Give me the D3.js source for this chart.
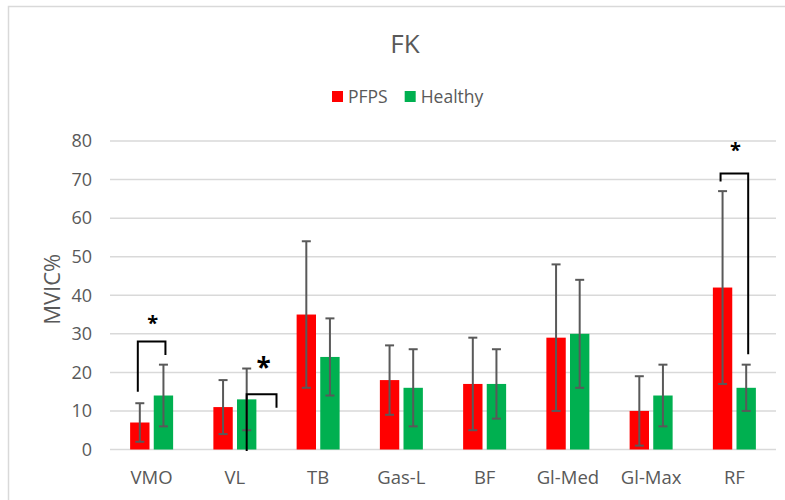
<!DOCTYPE html>
<html>
<head>
<meta charset="utf-8">
<script src="https://cdn.jsdelivr.net/npm/d3@7"></script>
<style>
  html, body { margin: 0; padding: 0; background: #fff; }
  svg { display: block; }
  text { font-family: "Open Sans", "Noto Sans", sans-serif; fill: #595959; }
</style>
</head>
<body>
<svg id="chart" width="785" height="500"></svg>
<script>
// Muscle groups on the x axis
const categories = ["VMO", "VL", "TB", "Gas-L", "BF", "Gl-Med", "Gl-Max", "RF"];
const seriesNames = ["PFPS", "Healthy"];
const seriesColors = ["#ff0000", "#00b050"];

// Mean MVIC% per group and standard deviation
const pfpsMean = [7, 11, 35, 18, 17, 29, 10, 42];
const pfpsSD = [5, 7, 19, 9, 12, 19, 9, 25];
const healthyMean = [14, 13, 24, 16, 17, 30, 14, 16];
const healthySD = [8, 8, 10, 10, 9, 14, 8, 6];

const yTicks = [0, 10, 20, 30, 40, 50, 60, 70, 80];

// Significance brackets: category, top level, left leg end, right leg end
const sigCategory = ["VMO", "VL", "RF"];
const sigTop = [28, 14.3, 71.6];
const sigLeftEnd = [15, -0.4, 69.5];
const sigRightEnd = [24.5, 10.8, 24.7];
const sigStarLevel = [34.5, 23.5, 79.5];

const svg = d3.select("#chart");
const plot = { left: 110, right: 776, top: 141, bottom: 449.5 };

// Outer chart frame
svg.append("rect")
  .attr("x", 8.5).attr("y", 6.5)
  .attr("width", 820).attr("height", 540)
  .attr("fill", "#fff").attr("stroke", "#d9d9d9").attr("stroke-width", 1.5);

const x0 = d3.scaleBand().domain(categories).range([plot.left, plot.right]).padding(0);
const groupHalf = 21.5;
const x1 = d3.scaleBand().domain(seriesNames).range([0, groupHalf * 2]).paddingInner(0.18);
const y = d3.scaleLinear().domain([0, 80]).range([plot.bottom, plot.top]);

const barLeft = (cat, s) => x0(cat) + x0.bandwidth() / 2 - groupHalf + x1(s);
const barCenter = (cat, s) => barLeft(cat, s) + x1.bandwidth() / 2;

// Gridlines
svg.append("g")
  .selectAll("line")
  .data(yTicks)
  .join("line")
  .attr("x1", plot.left).attr("x2", plot.right)
  .attr("y1", d => y(d)).attr("y2", d => y(d))
  .attr("stroke", "#d9d9d9").attr("stroke-width", 1.5);

// Y axis labels
const yAxis = d3.axisLeft(y).tickValues(yTicks).tickSize(0).tickPadding(0);
const yg = svg.append("g").attr("transform", `translate(${plot.left - 18},0)`).call(yAxis);
yg.select(".domain").remove();
yg.selectAll("text")
  .style("font-size", "18px")
  .attr("fill", "#595959")
  .style("font-family", "'Open Sans', sans-serif");

// X axis labels
const xAxis = d3.axisBottom(x0).tickSize(0).tickPadding(0);
const xg = svg.append("g").attr("transform", `translate(0,${plot.bottom + 21})`).call(xAxis);
xg.select(".domain").remove();
xg.selectAll("text")
  .style("font-size", "18.5px")
  .attr("fill", "#595959")
  .style("font-family", "'Open Sans', sans-serif");

// Bars and error bars
const rows = [];
categories.forEach((c, i) => {
  rows.push({ cat: c, s: "PFPS", mean: pfpsMean[i], sd: pfpsSD[i], color: seriesColors[0] });
  rows.push({ cat: c, s: "Healthy", mean: healthyMean[i], sd: healthySD[i], color: seriesColors[1] });
});

svg.append("g")
  .selectAll("rect")
  .data(rows)
  .join("rect")
  .attr("x", d => barLeft(d.cat, d.s))
  .attr("width", x1.bandwidth())
  .attr("y", d => y(d.mean))
  .attr("height", d => y(0) - y(d.mean))
  .attr("fill", d => d.color);

const eb = svg.append("g").attr("stroke", "#595959").attr("stroke-width", 2);
const capW = 4.5;
rows.forEach(d => {
  const cx = barCenter(d.cat, d.s);
  const hi = y(d.mean + d.sd), lo = y(d.mean - d.sd);
  eb.append("line").attr("x1", cx).attr("x2", cx).attr("y1", hi).attr("y2", lo);
  eb.append("line").attr("x1", cx - capW).attr("x2", cx + capW).attr("y1", hi).attr("y2", hi);
  eb.append("line").attr("x1", cx - capW).attr("x2", cx + capW).attr("y1", lo).attr("y2", lo);
});

// Significance brackets
const sig = svg.append("g");
sigCategory.forEach((c, i) => {
  let xl, xr;
  if (c === "VL") {
    xl = barCenter(c, "Healthy");
    xr = x0(c) + x0.bandwidth();
  } else {
    xl = barCenter(c, "PFPS") - 2;
    xr = barCenter(c, "Healthy") + 2;
  }
  sig.append("path")
    .attr("d", `M${xl},${y(sigLeftEnd[i])}V${y(sigTop[i])}H${xr}V${y(sigRightEnd[i])}`)
    .attr("fill", "none").attr("stroke", "#000").attr("stroke-width", 2);
  const big = c === "VL";
  sig.append("text")
    .attr("x", c === "VL" ? xr - 13 : (xl + xr) / 2 + 1)
    .attr("y", y(sigStarLevel[i]) + (big ? 18 : 14))
    .attr("text-anchor", "middle")
    .style("font-size", big ? "26px" : "20px")
    .style("font-weight", "bold")
    .style("fill", "#000")
    .text("*");
});

// Title
svg.append("text")
  .attr("x", 405).attr("y", 53)
  .attr("text-anchor", "middle")
  .style("font-size", "26px")
  .text("FK");

// Legend
const legend = svg.append("g").attr("transform", "translate(332,91)");
let lx = 0;
seriesNames.forEach((s, i) => {
  const g = legend.append("g").attr("transform", `translate(${lx},0)`);
  g.append("rect").attr("width", 11).attr("height", 11).attr("fill", seriesColors[i]);
  const t = g.append("text").attr("x", 16).attr("y", 11.5).style("font-size", "17.5px").text(s);
  lx += 16 + t.node().getComputedTextLength() + 17;
});

// Y axis title
svg.append("text")
  .attr("transform", `translate(60,${(plot.top + plot.bottom) / 2 - 6}) rotate(-90)`)
  .attr("text-anchor", "middle")
  .style("font-size", "22px")
  .text("MVIC%");
</script>
</body>
</html>
